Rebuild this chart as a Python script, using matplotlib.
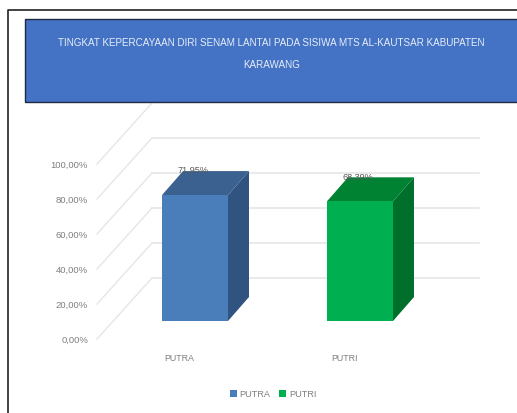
#!/usr/bin/env python3
import matplotlib
matplotlib.use("Agg")
import matplotlib.pyplot as plt
from matplotlib.patches import Polygon, Rectangle

categories = ["PUTRA", "PUTRI"]
values = [71.95, 68.39]
value_labels = ["71,95%", "68,39%"]
tick_values = [0, 20, 40, 60, 80, 100]
tick_labels = ["0,00%", "20,00%", "40,00%", "60,00%", "80,00%", "100,00%"]
title_lines = ["TINGKAT KEPERCAYAAN DIRI SENAM LANTAI PADA SISIWA MTS AL-KAUTSAR KABUPATEN", "KARAWANG"]

front_colors = ["#4A7EBB", "#00AF50"]
top_colors = ["#3A618F", "#008233"]
side_colors = ["#30537F", "#006F2C"]

plt.rcParams["font.family"] = ["Liberation Sans", "DejaVu Sans"]

PX = 1.75  # pixels per percent
W, H = 517, 414
BASE = 322  # pixel row of a bar's foot

fig = plt.figure(figsize=(W / 100, H / 100), dpi=100)
ax = fig.add_axes([0, 0, 1, 1])
ax.set_xlim(0, W)
ax.set_ylim((BASE - H) / PX, BASE / PX)
ax.axis("off")

# floor shift from the bar plane to front of the chart and to the back wall
front_y = -18 / PX
wall_y = 43 / PX
left_front = 97
left_wall = 152
right_wall = 479

grey = "#E6E6E6"
for t in tick_values:
    y_wall = wall_y + t
    y_front = front_y + t
    ax.plot([left_front, left_wall], [y_front, y_wall], color=grey, lw=1.0, zorder=1)
    if t < 100:
        ax.plot([left_wall, right_wall], [y_wall, y_wall], color=grey, lw=1.2, zorder=1)

for t, lab in zip(tick_values, tick_labels):
    ax.text(88, front_y + t - 0.4, lab, ha="right", va="center", color="#7F7F7F", fontsize=6.8, zorder=5)

bar_lefts = [162, 327]
bar_w = 66
dx = 21
dy = 24 / PX
for i, (cat, v) in enumerate(zip(categories, values)):
    x0 = bar_lefts[i]
    x1 = x0 + bar_w
    ax.add_patch(Polygon([(x1, 0), (x1 + dx, dy), (x1 + dx, v + dy), (x1, v)], color=side_colors[i], lw=0, zorder=3))
    ax.add_patch(Polygon([(x0, v), (x1, v), (x1 + dx, v + dy), (x0 + dx, v + dy)], color=top_colors[i], lw=0, zorder=3))
    ax.add_patch(Rectangle((x0, 0), bar_w, v, color=front_colors[i], lw=0, zorder=3, label=cat))
    ax.text(x0 + 31, v + dy + 0.8, value_labels[i], ha="center", va="center", color="#595959", fontsize=6.6, zorder=6)
    ax.text(x0 + 17, -20.8, cat, ha="center", va="center", color="#7F7F7F", fontsize=6.4)

ax.legend(loc="center", bbox_to_anchor=(273 / W, 1 - 395 / H), ncol=2, frameon=False, fontsize=6.6,
          labelcolor="#7F7F7F", handlelength=0.8, handleheight=0.8, handletextpad=0.3, columnspacing=0.9)

# outer frame and title box
fig.add_artist(plt.Line2D([7.5 / W, 7.5 / W, 1], [0, 1 - 10.5 / H, 1 - 10.5 / H], color="#222222", lw=1.2))
fig.add_artist(Rectangle((25 / W, 1 - 103 / H), 500 / W, 83 / H, transform=fig.transFigure,
                         facecolor="#4472C4", edgecolor="#1F2A44", lw=1))
fig.text(271 / W, 1 - 43 / H, title_lines[0], color="#E8EEF8", ha="center", va="center", fontsize=7.1)
fig.text(272 / W, 1 - 65.5 / H, title_lines[1], color="#E8EEF8", ha="center", va="center", fontsize=7.1)

fig.savefig("out.png", dpi=100)
